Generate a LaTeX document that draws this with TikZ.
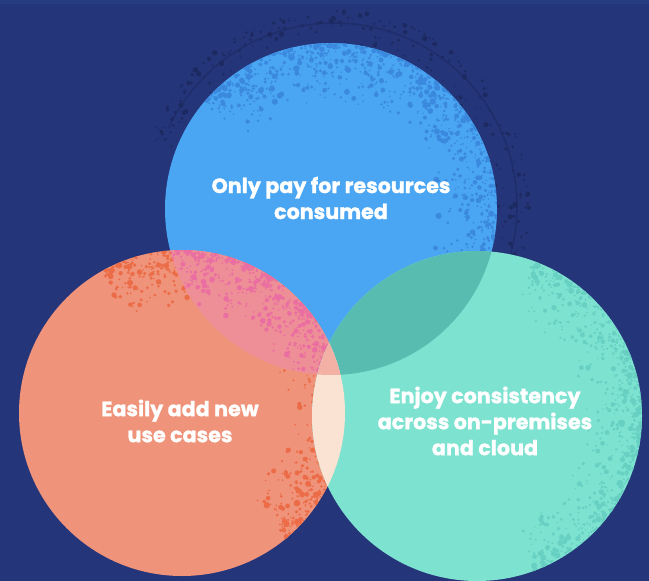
\documentclass[tikz,border=0pt]{standalone}
\usepackage{fontspec}
\setmainfont{Poppins}[BoldFeatures={FakeBold=1.2}]
\usepackage{tikz}
\usetikzlibrary{calc,positioning}

\definecolor{navy}{HTML}{25357A}
\definecolor{navytop}{HTML}{273D82}
\definecolor{ringdot}{HTML}{1D2961}
\definecolor{skyblue}{HTML}{4AA6F2}
\definecolor{skydot}{HTML}{3B89DE}
\definecolor{salmon}{HTML}{EF937A}
\definecolor{salmondot}{HTML}{EB6C47}
\definecolor{mint}{HTML}{7DE2CF}
\definecolor{mintdot}{HTML}{67D0C3}
\definecolor{lensbo}{HTML}{EE8E96}
\definecolor{lensbodot}{HTML}{EA6EA2}
\definecolor{lensbt}{HTML}{58BCB0}
\definecolor{lensot}{HTML}{FAE3D3}
\definecolor{lensall}{HTML}{F2B1A4}

\tikzset{vlabel/.style={text=white, font=\fontsize{15.5}{19.5}\selectfont\bfseries, align=center}}

% speckles: centre x, centre y, radius, start angle, end angle, count, colour
\newcommand{\dotband}[7]{%
  \foreach \k in {1,...,#6}{
    \pgfmathsetmacro{\aa}{#4+(#5-#4)*rnd}
    \pgfmathsetmacro{\dd}{#3*(1-0.38*rnd*rnd)}
    \pgfmathsetmacro{\ss}{0.8+2.6*rnd*rnd}
    \fill[#7] ($(#1,#2)+(\aa:\dd)$) circle (\ss);
  }}

\begin{document}
\begin{tikzpicture}[x=0.75pt,y=-0.75pt]
  \fill[navy] (0,0) rectangle (649,581);
  \fill[navytop] (0,0) rectangle (649,4);
  \useasboundingbox (0,0) rectangle (649,581);

  % faint ring behind the top circle
  \draw[ringdot, line width=1.2pt, opacity=0.6] (334,206) ++(205:183) arc[start angle=205, end angle=385, radius=183];
  \pgfmathsetseed{11}
  \dotband{334}{206}{195}{200}{375}{280}{ringdot}

  % blue
  \fill[skyblue] (331,209) circle (166);
  \begin{scope}
    \clip (331,209) circle (166);
    \pgfmathsetseed{3}
    \dotband{331}{209}{166}{220}{385}{900}{skydot}
  \end{scope}

  % orange
  \fill[salmon] (182,413) circle (163);
  \begin{scope}
    \clip (182,413) circle (163);
    \pgfmathsetseed{5}
    \dotband{182}{413}{163}{240}{410}{1000}{salmondot}
  \end{scope}

  % teal
  \fill[mint] (477,416) circle (165);
  \begin{scope}
    \clip (477,416) circle (165);
    \pgfmathsetseed{7}
    \dotband{477}{416}{165}{290}{430}{650}{mintdot}
  \end{scope}

  % overlaps
  \begin{scope}
    \clip (331,209) circle (166);
    \clip (182,413) circle (163);
    \fill[lensbo] (0,0) rectangle (649,581);
    \pgfmathsetseed{5}
    \dotband{182}{413}{163}{240}{410}{1000}{lensbodot}
  \end{scope}
  \begin{scope}
    \clip (331,209) circle (166);
    \clip (477,416) circle (165);
    \fill[lensbt] (0,0) rectangle (649,581);
  \end{scope}
  \begin{scope}
    \clip (182,413) circle (163);
    \clip (477,416) circle (165);
    \fill[lensot] (0,0) rectangle (649,581);
  \end{scope}
  \begin{scope}
    \clip (331,209) circle (166);
    \clip (182,413) circle (163);
    \clip (477,416) circle (165);
    \fill[lensall] (0,0) rectangle (649,581);
  \end{scope}

  \node[vlabel] at (331,198) (pay) {Only pay for resources\\consumed};
  \node[vlabel] at (180,421) (usecases) {Easily add new\\use cases};
  \node[vlabel] at (485,421) (consistency) {Enjoy consistency\\across on-premises\\and cloud};
\end{tikzpicture}
\end{document}
